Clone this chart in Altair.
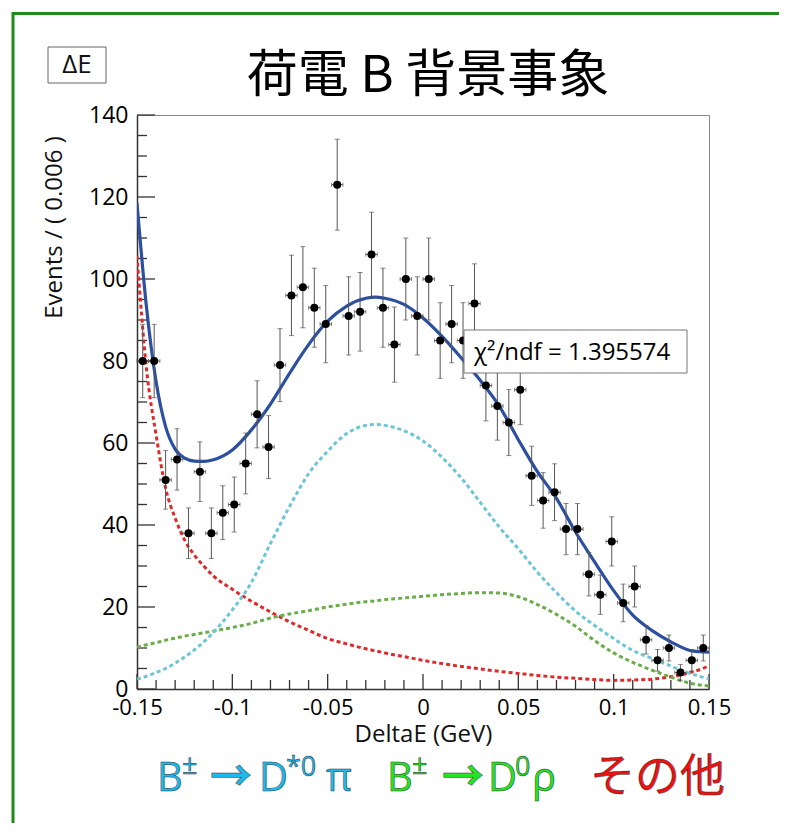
import altair as alt
import numpy as np
import pandas as pd

# ---------------- data ----------------
bin_lo = -0.15
bin_width = 0.006
counts = [80, 80, 51, 56, 38, 53, 38, 43, 45, 55,
          67, 59, 79, 96, 98, 93, 89, 123, 91, 92,
          106, 93, 84, 100, 91, 100, 85, 89, 85, 94,
          74, 69, 65, 73, 52, 46, 48, 39, 39, 28,
          23, 36, 21, 25, 12, 7, 10, 4, 7, 10]

curve_x = [-0.15, -0.145, -0.14, -0.135, -0.13, -0.125, -0.12, -0.115, -0.11, -0.10,
           -0.09, -0.08, -0.07, -0.06, -0.05, -0.04, -0.03, -0.025, -0.02, -0.01,
           0.0, 0.01, 0.02, 0.03, 0.04, 0.05, 0.06, 0.07, 0.08, 0.09,
           0.10, 0.11, 0.12, 0.13, 0.14, 0.145, 0.15]
total_fit = [118.5, 93, 75, 64, 58.5, 56.3, 55.6, 55.5, 55.9, 58.3,
             63.2, 69.5, 77, 84, 89.7, 93.4, 95.3, 95.6, 95.3, 93.8,
             90.5, 86, 80.8, 75.3, 69, 60.8, 53, 46.5, 38.3, 31,
             24, 18, 14.3, 11.5, 9.4, 9.1, 9.0]
dstar_pi = [2.4, 3.1, 4.0, 5.0, 6.3, 7.8, 9.5, 11.5, 13.8, 19.3,
            26, 35.5, 44.5, 52.5, 58.0, 62.3, 64.3, 64.5, 64.3, 63,
            60.5, 56.5, 51.5, 45.5, 39.5, 34.2, 28.5, 23.5, 19, 15.5,
            12.3, 9.4, 7.5, 5.6, 3.8, 3.1, 2.5]
d_rho = [10.2, 10.8, 11.3, 11.9, 12.4, 12.9, 13.3, 13.7, 14.1, 15.0,
         16.0, 17.3, 18.3, 19.1, 20.0, 20.7, 21.3, 21.5, 21.8, 22.2,
         22.6, 23.0, 23.3, 23.5, 23.4, 22.5, 20.6, 18.2, 15.3, 11.8,
         8.8, 6.5, 4.6, 2.9, 1.4, 1.0, 0.7]
other_bkg = [105.7, 78, 62, 49, 41.7, 36.3, 32.7, 30, 27.6, 24.3,
             21.4, 18.8, 16.4, 14.3, 12.3, 11.0, 9.8, 9.3, 8.8, 7.9,
             7.0, 6.2, 5.5, 4.9, 4.3, 3.8, 3.3, 2.9, 2.6, 2.3,
             2.1, 2.2, 2.4, 3.0, 4.0, 4.7, 5.7]

x_major = [-0.15, -0.1, -0.05, 0.0, 0.05, 0.1, 0.15]
y_major = [0, 20, 40, 60, 80, 100, 120, 140]
x_minor = [round(v, 3) for v in np.arange(-0.14, 0.15, 0.01) if round(v * 100) % 5 != 0]
y_minor = [v for v in range(5, 140, 5) if v % 20 != 0]

chi2_text = "χ²/ndf = 1.395574"
title_text = "荷電 B 背景事象"
x_title = "DeltaE (GeV)"
y_title = "Events / ( 0.006 )"

# ---------------- tables ----------------
n = len(counts)
centers = [bin_lo + bin_width * (i + 0.5) for i in range(n)]
err = np.sqrt(np.array(counts, dtype=float))
pts = pd.DataFrame({
    "x": centers,
    "y": counts,
    "ylo": np.array(counts) - err,
    "yhi": np.array(counts) + err,
    "xlo": [c - bin_width / 2 for c in centers],
    "xhi": [c + bin_width / 2 for c in centers],
})

W, H = 572, 574
PAD_R, PAD_B = 70, 134
FONT = "Open Sans"
CJK = "Noto Sans CJK JP"

xscale = alt.Scale(domain=[-0.15, 0.15], nice=False, zero=False)
yscale = alt.Scale(domain=[0, 140], nice=False, zero=True)

xaxis = alt.Axis(values=x_major, ticks=False, grid=False,
                 labelExpr="replace(format(datum.value, '~g'), '\u2212', '-')",
                 labelFontSize=22, labelFont=FONT, labelColor="black", labelPadding=8,
                 labelFlush=False, labelOverlap=False, labelBound=False,
                 domainColor="#333", domainWidth=1.5,
                 titleFontSize=24, titleFont=FONT, titleFontWeight="normal", titleColor="#111",
                 titleX=286, titleY=45, titleAlign="center", titleBaseline="middle")
yaxis = alt.Axis(values=y_major, ticks=False, grid=False,
                 labelFontSize=23, labelFont=FONT, labelColor="black", labelPadding=9,
                 labelFlush=False, labelOverlap=False, labelBound=False,
                 domainColor="#333", domainWidth=1.5,
                 titleFontSize=24, titleFont=FONT, titleFontWeight="normal", titleColor="#111",
                 titleX=-83, titleY=112, titleAngle=270, titleAlign="center", titleBaseline="middle")


def X(field="x"):
    return alt.X(f"{field}:Q", scale=xscale, axis=xaxis, title=x_title)


def Y(field="y"):
    return alt.Y(f"{field}:Q", scale=yscale, axis=yaxis, title=y_title)


one = pd.DataFrame({"k": [0]})
layers = []

# green outer frame: one stroked rect, dashed so that only its top and left edges show
green_frame = "#1f8b1f"
fx0, fy0 = -124, -101.5
fx1, fy1 = W + PAD_R, H + PAD_B
fw, fh = fx1 - fx0, fy1 - fy0
layers.append(alt.Chart(one).mark_rect(fillOpacity=0, stroke=green_frame, strokeWidth=3,
                                       strokeDash=[fw, fh + fw, fh + 2, 0]).encode(
    x=alt.value(fx0), x2=alt.value(fx1), y=alt.value(fy0), y2=alt.value(fy1)))

# inward ticks
layers.append(alt.Chart(pd.DataFrame({"y": y_major})).mark_rule(color="#333", strokeWidth=1.3).encode(
    y=Y(), x=alt.value(0), x2=alt.value(18)))
layers.append(alt.Chart(pd.DataFrame({"y": y_minor})).mark_rule(color="#333", strokeWidth=1.3).encode(
    y=Y(), x=alt.value(0), x2=alt.value(10)))
layers.append(alt.Chart(pd.DataFrame({"x": x_major})).mark_rule(color="#333", strokeWidth=1.3).encode(
    x=X(), y=alt.value(H), y2=alt.value(H - 15)))
layers.append(alt.Chart(pd.DataFrame({"x": x_minor})).mark_rule(color="#333", strokeWidth=1.3).encode(
    x=X(), y=alt.value(H), y2=alt.value(H - 9)))

# component curves (dotted)
for arr, col in [(other_bkg, "#dd2b2b"), (d_rho, "#6aae4a"), (dstar_pi, "#6cc6d8")]:
    layers.append(alt.Chart(pd.DataFrame({"x": curve_x, "y": arr})).mark_line(
        color=col, strokeWidth=3, strokeDash=[4, 3], interpolate="monotone", clip=True).encode(x=X(), y=Y()))

# total fit
layers.append(alt.Chart(pd.DataFrame({"x": curve_x, "y": total_fit})).mark_line(
    color="#2c4f9f", strokeWidth=3.2, interpolate="monotone", clip=True).encode(x=X(), y=Y()))

# error bars
ebc = "#555"
base = alt.Chart(pts)
layers.append(base.mark_rule(color=ebc, strokeWidth=1).encode(x=X(), y=Y("ylo"), y2="yhi:Q"))
layers.append(base.mark_tick(orient="horizontal", size=5, thickness=1, color=ebc).encode(x=X(), y=Y("ylo")))
layers.append(base.mark_tick(orient="horizontal", size=5, thickness=1, color=ebc).encode(x=X(), y=Y("yhi")))
layers.append(base.mark_rule(color=ebc, strokeWidth=1).encode(x=X("xlo"), x2="xhi:Q", y=Y()))
layers.append(base.mark_tick(orient="vertical", size=4, thickness=1, color=ebc).encode(x=X("xlo"), y=Y()))
layers.append(base.mark_tick(orient="vertical", size=4, thickness=1, color=ebc).encode(x=X("xhi"), y=Y()))
layers.append(base.mark_circle(size=64, color="black", opacity=1).encode(x=X(), y=Y()))

# chi2 box
layers.append(alt.Chart(one).mark_rect(fill="white", stroke="#777", strokeWidth=1).encode(
    x=alt.value(327), x2=alt.value(550), y=alt.value(215), y2=alt.value(258)))
layers.append(alt.Chart(one).mark_text(text=chi2_text, align="left", baseline="alphabetic",
                                       fontSize=24, font=FONT, color="black").encode(
    x=alt.value(337), y=alt.value(245)))

# Delta E label box
layers.append(alt.Chart(one).mark_rect(fill="white", stroke="#666", strokeWidth=1).encode(
    x=alt.value(-89), x2=alt.value(-31), y=alt.value(-68), y2=alt.value(-32)))
layers.append(alt.Chart(one).mark_text(text="ΔE", align="center", baseline="middle",
                                       fontSize=26, font=FONT, color="#111").encode(
    x=alt.value(-60), y=alt.value(-50)))

# title
layers.append(alt.Chart(one).mark_text(text=title_text, align="center", baseline="middle",
                                       fontSize=51, font=CJK, color="black").encode(
    x=alt.value(291), y=alt.value(-38)))

# bottom coloured labels (pieces for superscripts)
cyan, green, red = "#1cb8ee", "#22e622", "#ee1111"
pieces = [
    ("B", 20, 676, 40, cyan, FONT, "normal"), ("±", 45, 659, 27, cyan, FONT, "normal"),
    ("→", 73, 676, 42, cyan, CJK, "bold"),
    ("D", 122, 676, 40, cyan, FONT, "normal"), ("*0", 149, 661, 27, cyan, FONT, "normal"),
    ("π", 189, 676, 40, cyan, FONT, "normal"),
    ("B", 250, 676, 40, green, FONT, "normal"), ("±", 275, 659, 27, green, FONT, "normal"),
    ("→", 305, 676, 42, green, CJK, "bold"),
    ("D", 351, 676, 40, green, FONT, "normal"), ("0", 378, 661, 27, green, FONT, "normal"),
    ("ρ", 395, 676, 40, green, FONT, "normal"),
    ("その他", 453, 677, 45, red, CJK, "normal"),
]
for txt, px, py, fs, col, fnt, fw_ in pieces:
    layers.append(alt.Chart(one).mark_text(text=txt, align="left", baseline="alphabetic",
                                           fontSize=fs, font=fnt, color=col, fontWeight=fw_,
                                           stroke="#333", strokeWidth=0.5).encode(
        x=alt.value(px), y=alt.value(py)))

chart = alt.layer(*layers).properties(
    width=W, height=H,
    padding={"left": 129, "top": 107, "right": PAD_R, "bottom": PAD_B},
    autosize=alt.AutoSizeParams(type="none"),
    background="white",
).configure_view(stroke="#888", strokeWidth=1)

chart.save("out.html", embed_options={"renderer": "svg", "actions": False})
